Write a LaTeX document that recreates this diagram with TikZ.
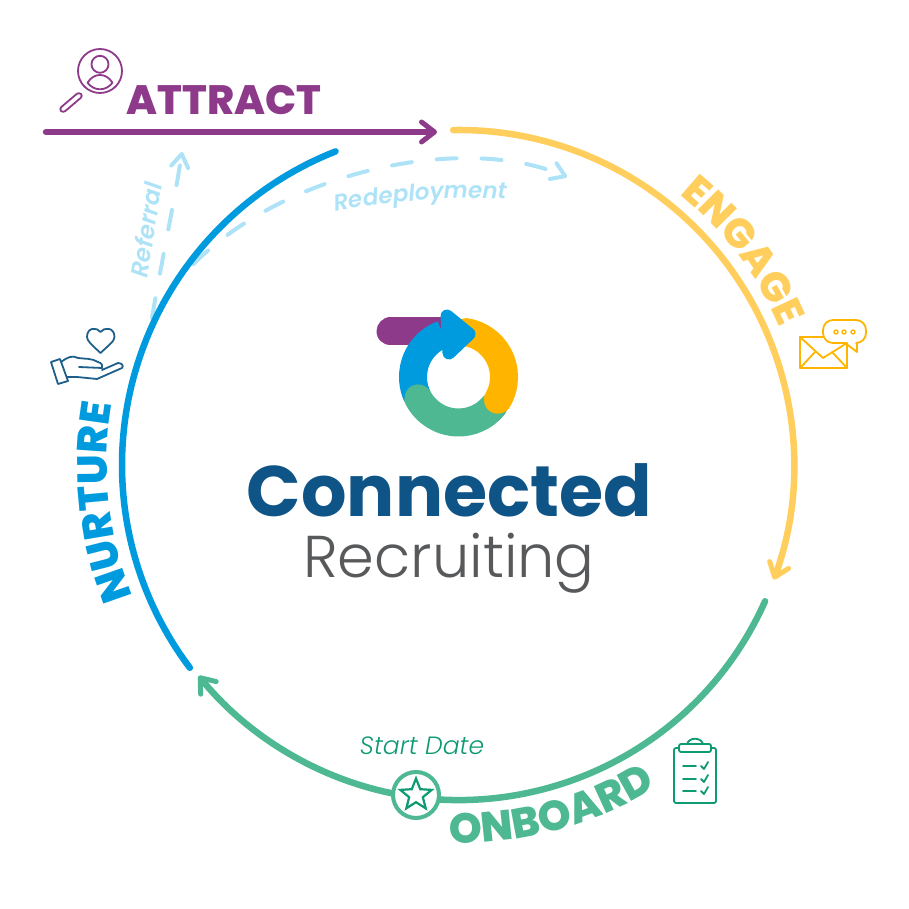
\documentclass[tikz,border=0pt]{standalone}
\usepackage{fontspec}
\setmainfont{Poppins}
\newfontfamily\headfont{Poppins ExtraBold}
\newfontfamily\namefont{Poppins}
\newfontfamily\midfont{Poppins SemiBold}
\newfontfamily\thinfont{Poppins Light}
\usetikzlibrary{arrows.meta,calc,decorations.text,shapes.geometric}
\definecolor{attractc}{HTML}{8E3A8B}
\definecolor{engagec}{HTML}{FFCE5C}
\definecolor{goldc}{HTML}{FFB500}
\definecolor{onboardc}{HTML}{4DB892}
\definecolor{iconc}{HTML}{0E9A72}
\definecolor{nurturec}{HTML}{009ADE}
\definecolor{handc}{HTML}{1D5F8A}
\definecolor{dashc}{HTML}{AEE3F7}
\definecolor{titlec}{HTML}{0F5486}
\definecolor{greyc}{HTML}{58595B}
\tikzset{
  ring/.style={line width=6.5pt},
  barb/.style={-{Straight Barb[length=13pt,width=20pt,round,line width=5pt]}},
  hint/.style={dashc,line width=4pt,line cap=round,dash pattern=on 20pt off 25pt},
  hintbarb/.style={-{Straight Barb[length=13pt,width=17pt,round]}},
  logoarc/.style={line width=28pt},
  icon/.style={line width=1.8pt,line join=round,line cap=round},
}
\begin{document}
\begin{tikzpicture}[x=1pt,y=1pt]
  \useasboundingbox (0,0) rectangle (909,909);
  \coordinate (c) at (459,444);
  \coordinate (logo) at (458.5,532);
  %%%%%%%% Lineas de trazos %%%%%%%%
  \coordinate (refA) at (152,591);
  \coordinate (refB) at (182,757);
  \coordinate (redA) at (165,610);
  \coordinate (redB) at (567,732);
  \draw[hint,hintbarb] (refA) .. controls (162,650) and (174,705) .. (refB);
  \draw[hint,hintbarb] (redA) .. controls (240,725) and (449,782) .. (redB);
  %%%%%%%% Circulo %%%%%%%%
  \coordinate (attA) at (46,777);
  \coordinate (attB) at (437,777);
  \draw[attractc,ring,line cap=round,barb] (attA) -- (attB);
  \draw[engagec,ring,line cap=round,barb] ($(c)+(91:335)$) arc[start angle=91,end angle=-20,radius=335];
  \draw[onboardc,ring,line cap=round,barb] ($(c)+(-24:335)$) arc[start angle=-24,end angle=-141,radius=335];
  \draw[nurturec,ring,line cap=round] ($(c)+(217:337)$) arc[start angle=217,end angle=111.5,radius=337];
  %%%%%%%% Marca del centro %%%%%%%%
  \coordinate (barA) at (390.5,577.5);
  \coordinate (barB) at (450,577.5);
  \draw[attractc,logoarc,line cap=round] (barA) -- (barB);
  \draw[nurturec,logoarc] ($(logo)+(205:45.5)$) arc[start angle=205,end angle=110,radius=45.5];
  \draw[onboardc,logoarc,line cap=round] ($(logo)+(208:45.5)$) arc[start angle=208,end angle=320,radius=45.5];
  \draw[goldc,logoarc,line cap=round] ($(logo)+(-30:45.5)$) arc[start angle=-30,end angle=80,radius=45.5];
  \filldraw[nurturec,line width=13pt,line join=round] (447,593) -- (469,575) -- (449,556) -- cycle;
  %%%%%%%% Textos %%%%%%%%
  \node[anchor=base,inner sep=0pt,text=attractc,font=\headfont\fontsize{41}{41}\selectfont] (attract) at (224,794) {ATTRACT};
  \node[anchor=base,inner sep=0pt,text=titlec,font=\namefont\bfseries\fontsize{71.5}{72}\selectfont] (connected) at (449.5,392) {Connected};
  \node[anchor=base,inner sep=0pt,text=greyc,font=\thinfont\fontsize{59}{59}\selectfont] (recruiting) at (449,331) {Recruiting};
  \node[anchor=base,inner sep=0pt,text=iconc,font=\thinfont\itshape\fontsize{25}{25}\selectfont] (startdate) at (422,154) {Start Date};
  \node[anchor=base,inner sep=0pt,rotate=81,text=dashc,font=\midfont\itshape\fontsize{24}{24}\selectfont] (referral) at (155,678) {Referral};
  \path[decorate,decoration={text along path,text align=center,text color=dashc,text={|\midfont\itshape\fontsize{23}{23}\selectfont|Redeployment}}]
    (322,695) .. controls (380,708) and (460,714) .. (520,709);
  \path[decorate,decoration={text along path,text align=center,text color=engagec,text={|\headfont\fontsize{41}{41}\selectfont|ENGAGE}}]
    ($(c)+(56:349)$) arc[start angle=56,end angle=18,radius=349];
  \path[decorate,decoration={text along path,text align=center,text color=nurturec,text={|\headfont\fontsize{42}{42}\selectfont|NURTURE}}]
    ($(c)+(206:352)$) arc[start angle=206,end angle=166,radius=352];
  \path[decorate,decoration={text along path,text align=center,text color=onboardc,text={|\headfont\fontsize{42}{42}\selectfont|ONBOARD}}]
    ($(c)+(-100:378)$) arc[start angle=-100,end angle=-50,radius=378];
  %%%%%%%% Estrella %%%%%%%%
  \node[circle,draw=onboardc,fill=white,line width=4pt,minimum size=46pt,inner sep=0pt] (startmark) at (416,114) {};
  \node[star,star points=5,star point ratio=2.3,draw=iconc,line width=2.2pt,minimum size=33pt,inner sep=0pt] (startstar) at (416,114) {};
  %%%%%%%% Lupa %%%%%%%%
  \begin{scope}[attractc,icon]
    \draw (100,838) circle (22);
    \draw (100,844.7) circle (8.5);
    \draw (87.5,826.3) .. controls (94,836.6) and (106,836.6) .. (112.5,826.3) .. controls (106,817.5) and (94,817.5) .. (87.5,826.3) -- cycle;
    \draw[rounded corners=3pt] (79,817) -- (83,813) -- (63,796) -- (59,800) -- cycle;
  \end{scope}
  %%%%%%%% Sobre y mensaje %%%%%%%%
  \begin{scope}[goldc,icon]
    \draw (823,572) -- (800,572) -- (800,541) -- (847,541) -- (847,566);
    \draw (800,572) -- (823,551) -- (847,566);
    \draw (800,541) -- (815,557);
    \draw (847,541) -- (832,557);
    \draw[rounded corners=10pt] (845,566) -- (823,566) -- (823,589) -- (866,589) -- (866,566) -- (857,566);
    \draw (845,566) -- (857,557) -- (857,566);
    \foreach \dotx in {836,844,853} { \draw[line width=1.4pt] (\dotx,577) circle (2); }
  \end{scope}
  %%%%%%%% Mano y corazon %%%%%%%%
  \begin{scope}[handc,icon]
    \draw (100.5,556) .. controls (92,564) and (87,568) .. (87,572) .. controls (87,582) and (97,582) .. (100.5,577) .. controls (104,582) and (114.5,582) .. (114.5,572) .. controls (114.5,568) and (109,564) .. (100.5,556) -- cycle;
    \draw (51,547) -- (60,550) -- (68,528) -- (58,525) -- cycle;
    \draw (61,547) .. controls (68,552) and (72,554) .. (78,551) .. controls (84,550) and (92,551) .. (98,547) .. controls (102,546) and (103,543) .. (102,541) -- (79,542);
    \draw (102,539) -- (118,546) .. controls (122,546) and (124,543) .. (122,541) -- (97,530) -- (77,532) -- (67,532);
  \end{scope}
  %%%%%%%% Tablilla %%%%%%%%
  \begin{scope}[iconc,icon]
    \draw[rounded corners=2pt] (679,161) -- (674,161) -- (674,106) -- (716,106) -- (716,161) -- (711,161);
    \draw[rounded corners=2pt] (679,165) -- (711,165) -- (711,157) -- (679,157) -- cycle;
    \draw (687,165) .. controls (689,172) and (701,172) .. (703,165);
    \foreach \rowy in {143,130,118} {
      \draw (683,\rowy) -- (696,\rowy);
      \draw (701,\rowy) -- (704,\rowy-3) -- (708,\rowy+4);
    }
  \end{scope}
\end{tikzpicture}
\end{document}
